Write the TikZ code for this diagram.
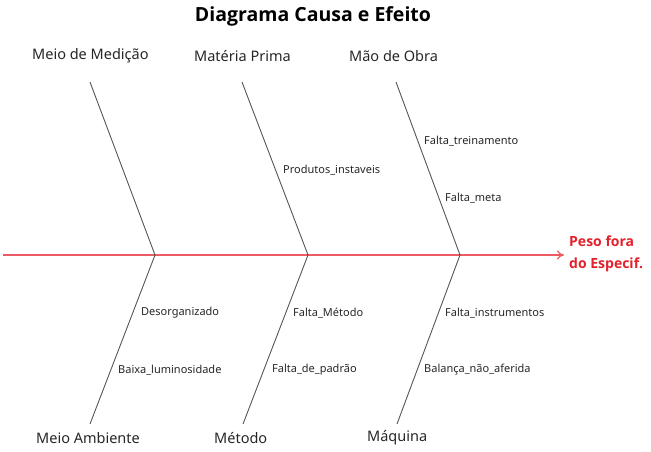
\documentclass[tikz,border=0pt]{standalone}
\usepackage{fontspec}
\setmainfont{Noto Sans}
\newfontfamily\boldfam{Open Sans}[UprightFont=* Bold]
\usetikzlibrary{arrows.meta}
\definecolor{spinered}{HTML}{EC5A63}
\definecolor{effred}{HTML}{E3202B}
\definecolor{bonegray}{HTML}{555555}
\begin{document}
\begin{tikzpicture}[x=1pt,y=-1pt,
  catlabel/.style={font=\fontsize{14.5}{16}\selectfont, text=black!85, inner sep=0pt, anchor=west},
  sublabel/.style={font=\fontsize{11}{13}\selectfont, text=black!85, inner sep=0pt, anchor=west},
  bone/.style={draw=bonegray, line width=0.9pt},
  spine/.style={draw=spinered, line width=1.2pt, -{To[length=7pt,width=9pt]}},
  efftext/.style={font=\boldfam\fontsize{14}{22}\selectfont, text=effred, inner sep=0pt, align=left, anchor=west}]
\useasboundingbox (0,0) rectangle (651,451);
% title
\node[font=\boldfam\fontsize{19.5}{22}\selectfont, inner sep=0pt] (title) at (313,16) {Diagrama Causa e Efeito};
% category labels
\node[catlabel] (medicao) at (32,56) {Meio de Medição};
\node[catlabel] (materia) at (194,56) {Matéria Prima};
\node[catlabel] (obra) at (349,56) {Mão de Obra};
\node[catlabel] (ambiente) at (36,438) {Meio Ambiente};
\node[catlabel] (metodo) at (214,438) {Método};
\node[catlabel] (maquina) at (367,438) {Máquina};
% spine
\coordinate (tail) at (3,255);
\node[efftext] (effect) at (569,254) {Peso fora\\do Especif.};
\coordinate (head) at (564,255);
\coordinate (j1) at (155,255);
\coordinate (j2) at (308,255);
\coordinate (j3) at (460,255);
\draw[spine] (tail) -- (head);
% bone ends
\coordinate (t1) at (90,82);
\coordinate (t2) at (242,82);
\coordinate (t3) at (396,82);
\coordinate (b1) at (90,424);
\coordinate (b2) at (243,424);
\coordinate (b3) at (397,424);
\draw[bone] (t1) -- (j1) -- (b1);
\draw[bone] (t2) -- (j2) -- (b2);
\draw[bone] (t3) -- (j3) -- (b3);
% sub causes
\node[sublabel] (prod) at (283,170) {Produtos\_instaveis};
\node[sublabel] (trein) at (424,141) {Falta\_treinamento};
\node[sublabel] (meta) at (445,198) {Falta\_meta};
\node[sublabel] (desorg) at (141,313) {Desorganizado};
\node[sublabel] (lumin) at (118,370) {Baixa\_luminosidade};
\node[sublabel] (fmetodo) at (293,313) {Falta\_Método};
\node[sublabel] (padrao) at (272,370) {Falta\_de\_padrão};
\node[sublabel] (instr) at (445,313) {Falta\_instrumentos};
\node[sublabel] (balanca) at (424,370) {Balança\_não\_aferida};
\end{tikzpicture}
\end{document}
